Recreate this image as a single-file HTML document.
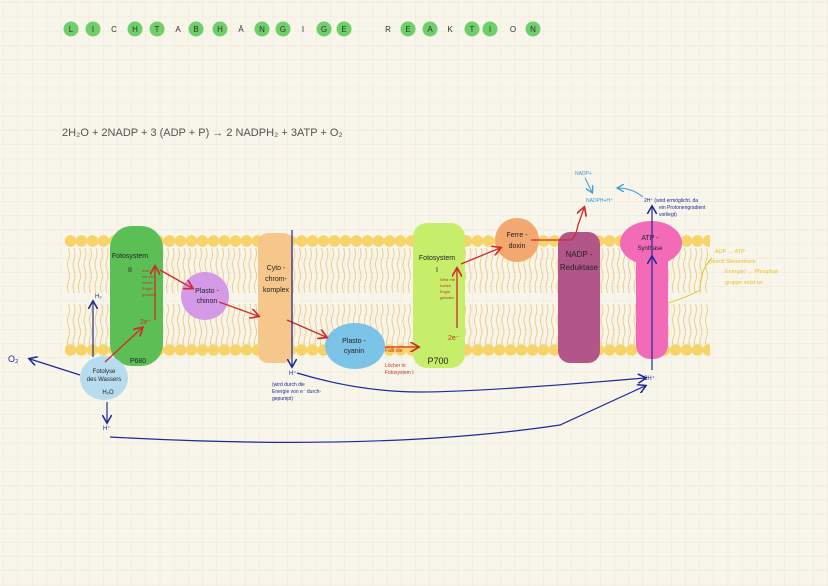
<!DOCTYPE html>
<html><head><meta charset="utf-8"><style>
html,body{margin:0;padding:0;background:#f8f5ea}
svg{display:block}
text{font-family:"Liberation Sans",sans-serif}
</style></head><body>
<svg width="828" height="586" viewBox="0 0 828 586" xmlns="http://www.w3.org/2000/svg">
<defs>
<pattern id="grid" width="14.2" height="14.2" patternUnits="userSpaceOnUse" x="4" y="3">
<path d="M14.2 0V14.2M0 14.2H14.2" stroke="#e8e4d6" stroke-width="0.8" fill="none"/>
</pattern>
<pattern id="tails" width="5.5" height="46" patternUnits="userSpaceOnUse" x="0" y="248">
<path d="M2.5 0q2 6 0 11t0 11t0 11t0 12" stroke="#f2c880" stroke-width="0.9" fill="none"/>
</pattern>
<pattern id="tails2" width="5.5" height="44" patternUnits="userSpaceOnUse" x="0" y="304">
<path d="M2.5 0q2 6 0 11t0 11t0 11t0 11" stroke="#f2c880" stroke-width="0.9" fill="none"/>
</pattern>
<pattern id="heads" width="11" height="14" patternUnits="userSpaceOnUse" x="65" y="234">
<circle cx="5.5" cy="7" r="5.8" fill="#f7d46a"/>
</pattern>
<pattern id="heads2" width="11" height="14" patternUnits="userSpaceOnUse" x="65" y="343">
<circle cx="5.5" cy="7" r="5.8" fill="#f7d46a"/>
</pattern>
<marker id="ar" markerWidth="8" markerHeight="8" refX="6" refY="4" orient="auto"><path d="M0 0L7 4L0 8" fill="none" stroke="#d12a2a" stroke-width="1.3"/></marker>
<marker id="ab" markerWidth="8" markerHeight="8" refX="6" refY="4" orient="auto"><path d="M0 0L7 4L0 8" fill="none" stroke="#1d2a9a" stroke-width="1.3"/></marker>
<marker id="al" markerWidth="8" markerHeight="8" refX="6" refY="4" orient="auto"><path d="M0 0L7 4L0 8" fill="none" stroke="#3b9ad8" stroke-width="1.3"/></marker>
</defs>
<rect width="828" height="586" fill="#f8f5ea"/>
<rect width="828" height="586" fill="url(#grid)"/>

<!-- title -->
<g font-size="8" text-anchor="middle" fill="#333">
<g fill="#6fcf6a"><circle cx="71" cy="29" r="7.5"/><circle cx="93" cy="29" r="7.5"/><circle cx="135" cy="29" r="7.5"/><circle cx="157" cy="29" r="7.5"/><circle cx="196" cy="29" r="7.5"/><circle cx="220" cy="29" r="7.5"/><circle cx="262" cy="29" r="7.5"/><circle cx="283" cy="29" r="7.5"/><circle cx="324" cy="29" r="7.5"/><circle cx="344" cy="29" r="7.5"/><circle cx="408" cy="29" r="7.5"/><circle cx="430" cy="29" r="7.5"/><circle cx="472" cy="29" r="7.5"/><circle cx="490" cy="29" r="7.5"/><circle cx="533" cy="29" r="7.5"/></g>
<text x="71" y="32">L</text><text x="93" y="32">I</text><text x="114" y="32">C</text><text x="135" y="32">H</text><text x="157" y="32">T</text><text x="178" y="32">A</text><text x="196" y="32">B</text><text x="220" y="32">H</text><text x="241" y="32">Ä</text><text x="262" y="32">N</text><text x="283" y="32">G</text><text x="303" y="32">I</text><text x="324" y="32">G</text><text x="344" y="32">E</text>
<text x="388" y="32">R</text><text x="408" y="32">E</text><text x="430" y="32">A</text><text x="450" y="32">K</text><text x="472" y="32">T</text><text x="490" y="32">I</text><text x="513" y="32">O</text><text x="533" y="32">N</text>
</g>
<text x="62" y="136" font-size="11" fill="#555">2H₂O + 2NADP + 3 (ADP + P) → 2 NADPH₂ + 3ATP + O₂</text>

<!-- membrane -->
<rect x="65" y="248" width="645" height="46" fill="url(#tails)"/>
<rect x="65" y="304" width="645" height="42" fill="url(#tails2)"/>
<rect x="65" y="234" width="645" height="14" fill="url(#heads)"/>
<rect x="65" y="343" width="645" height="14" fill="url(#heads2)"/>

<!-- proteins -->
<rect x="110" y="226" width="53" height="140" rx="22" fill="#5cbf55"/>
<circle cx="205" cy="296" r="24" fill="#d49ae8"/>
<rect x="258" y="233" width="35" height="130" rx="10" fill="#f6c78a"/>
<ellipse cx="355" cy="346" rx="30" ry="23" fill="#7cc3e8"/>
<rect x="413" y="223" width="52" height="145" rx="14" fill="#c6ee6a"/>
<circle cx="517" cy="240" r="22" fill="#f3a870"/>
<rect x="558" y="232" width="42" height="131" rx="12" fill="#b2568a"/>
<ellipse cx="651" cy="243" rx="31" ry="22" fill="#f26ab8"/>
<rect x="636" y="245" width="32" height="114" rx="14" fill="#f26ab8"/>
<ellipse cx="104" cy="378" rx="24" ry="22" fill="#b8dcef"/>

<!-- labels -->
<g font-size="7" fill="#222" text-anchor="middle">
<text x="130" y="258">Fotosystem</text><text x="130" y="272">II</text>
<text x="138" y="363">P680</text>
<text x="207" y="293">Plasto -</text><text x="207" y="303">chinon</text>
<text x="276" y="270">Cyto -</text><text x="276" y="281">chrom-</text><text x="276" y="292">komplex</text>
<text x="354" y="343">Plasto -</text><text x="354" y="353">cyanin</text>
<text x="437" y="260">Fotosystem</text><text x="437" y="272">I</text>
<text x="438" y="364" font-size="9">P700</text>
<text x="517" y="237">Ferre -</text><text x="517" y="248">doxin</text>
<text x="579" y="257" font-size="8">NADP -</text><text x="579" y="270" font-size="8">Reduktase</text>
<text x="650" y="240">ATP -</text><text x="650" y="250" font-size="6">Synthase</text>
<text x="104" y="373" font-size="6">Fotolyse</text><text x="104" y="381" font-size="6">des Wassers</text><text x="108" y="394" font-size="6">H₂O</text>
</g>
<g font-size="4" fill="#c2361f"><text x="142" y="272">wird</text><text x="142" y="278">mit ein</text><text x="142" y="284">hohen</text><text x="142" y="290">Engiel</text><text x="142" y="296">geladen</text>
<text x="440" y="281">Wird mit</text><text x="440" y="287">hohen</text><text x="440" y="293">Engie</text><text x="440" y="299">geladen</text></g>
<g font-size="7" fill="#c2361f"><text x="140" y="324">2e⁻</text><text x="448" y="340">2e⁻</text>
<text x="385" y="352" font-size="5">Fällt die</text><text x="385" y="367" font-size="5">Löcher in</text><text x="385" y="374" font-size="5">Fotosystem I</text></g>

<!-- red arrows -->
<g stroke="#d12a2a" stroke-width="1.3" fill="none" marker-end="url(#ar)">
<line x1="105" y1="362" x2="142" y2="328"/>
<line x1="155" y1="320" x2="155" y2="267"/>
<line x1="160" y1="270" x2="192" y2="288"/>
<line x1="219" y1="302" x2="258" y2="316"/>
<line x1="287" y1="320" x2="326" y2="337"/>
<line x1="385" y1="347" x2="418" y2="347"/>
<line x1="457" y1="328" x2="457" y2="269"/>
<line x1="461" y1="264" x2="500" y2="248"/>
<path d="M531 240H570Q575 240 578 225L584 208"/>
</g>

<!-- blue -->
<g stroke="#1d2a9a" stroke-width="1.2" fill="none" marker-end="url(#ab)">
<line x1="93" y1="357" x2="93" y2="302"/>
<line x1="80" y1="375" x2="30" y2="359"/>
<line x1="107" y1="402" x2="107" y2="422"/>
<line x1="292" y1="230" x2="292" y2="366"/>
<path d="M297 373Q360 392 420 392T645 378"/>
<path d="M110 437Q380 452 560 425L645 386"/>
<line x1="652" y1="370" x2="652" y2="257"/>
<line x1="652" y1="225" x2="652" y2="207"/>
</g>
<line x1="652" y1="257" x2="652" y2="225" stroke="#1d2a9a" stroke-width="1.2"/>
<g font-size="6" fill="#1d2a9a">
<text x="8" y="362" font-size="9">O₂</text>
<text x="95" y="298">H₂</text><text x="103" y="430">H⁺</text><text x="289" y="375">H⁺</text>
<text x="272" y="386" font-size="5">(wird durch die</text><text x="272" y="393" font-size="5">Energie von e⁻ durch-</text><text x="272" y="400" font-size="5">gepumpt)</text>
<text x="644" y="380">2H⁺</text>
<text x="644" y="202" font-size="5">2H⁺ (wird ermöglicht, da</text><text x="659" y="209" font-size="5">ein Protonengradient</text><text x="659" y="216" font-size="5">vorliegt)</text>
</g>
<g font-size="5" fill="#3b9ad8"><text x="575" y="175">NADP+</text><text x="586" y="202">NADPH+H⁺</text></g>
<g stroke="#3b9ad8" stroke-width="1" fill="none" marker-end="url(#al)">
<line x1="585" y1="178" x2="592" y2="192"/><path d="M643 197Q632 188 618 188"/></g>
<g font-size="5.5" fill="#e8c22a"><text x="715" y="253">ADP → ATP</text><text x="709" y="263">(durch Steuerdruck</text><text x="725" y="273">Energie) → Phosphat-</text><text x="725" y="284">gruppe setzt an</text></g>
<path d="M712 258Q700 270 700 290Q690 296 668 303" stroke="#e8c22a" fill="none" stroke-width="1"/>
</svg>
</body></html>
